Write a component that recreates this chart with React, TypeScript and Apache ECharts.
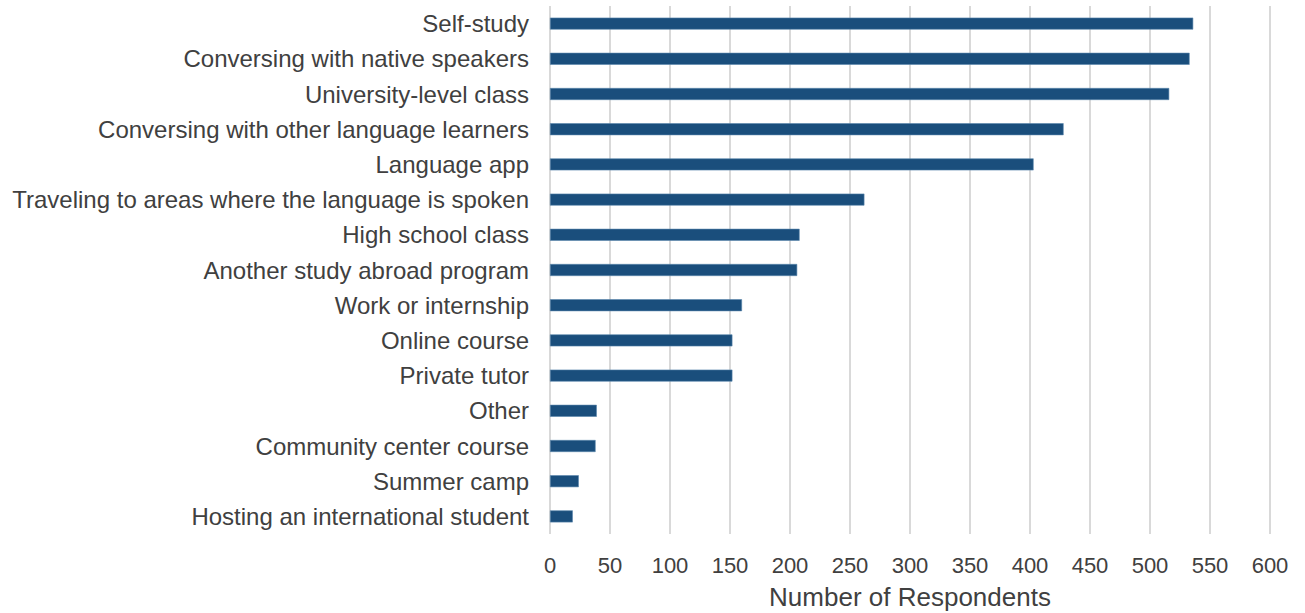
import React, { useEffect, useRef } from "react";
import * as echarts from "echarts";

const categories = [
  "Self-study",
  "Conversing with native speakers",
  "University-level class",
  "Conversing with other language learners",
  "Language app",
  "Traveling to areas where the language is spoken",
  "High school class",
  "Another study abroad program",
  "Work or internship",
  "Online course",
  "Private tutor",
  "Other",
  "Community center course",
  "Summer camp",
  "Hosting an international student",
];

const respondents = [536, 533, 516, 428, 403, 262, 208, 206, 160, 152, 152, 39, 38, 24, 19];

const xTicks = { min: 0, max: 600, interval: 50 };
const xAxisTitle = "Number of Respondents";

export default function App() {
  const ref = useRef<HTMLDivElement>(null);
  useEffect(() => {
    if (!ref.current) return;
    const chart = echarts.init(ref.current, null, { renderer: "svg" });
    const font = "'Liberation Sans', Arial, sans-serif";
    chart.setOption({
      animation: false,
      grid: {
        left: 550,
        right: 35,
        top: 6,
        bottom: 79,
        containLabel: false,
        outerBoundsMode: "none",
      },
      xAxis: {
        type: "value",
        min: xTicks.min,
        max: xTicks.max,
        interval: xTicks.interval,
        axisLine: { show: false },
        axisTick: { show: false },
        splitLine: { show: true, lineStyle: { color: "#d9d9d9", width: 2 } },
        axisLabel: { color: "#404040", fontSize: 22, fontFamily: font, margin: 20 },
        name: xAxisTitle,
        nameLocation: "middle",
        nameGap: 50,
        nameTextStyle: { color: "#404040", fontSize: 26, fontFamily: font },
      },
      yAxis: {
        type: "category",
        data: categories,
        inverse: true,
        axisLine: { show: false },
        axisTick: { show: false },
        splitLine: { show: false },
        axisLabel: { color: "#404040", fontSize: 24, fontFamily: font, margin: 21 },
      },
      series: [
        {
          type: "bar",
          data: respondents,
          barWidth: 12,
          itemStyle: { color: "#1a4e7c", borderColor: "#5a86ad", borderWidth: 0.6 },
        },
      ],
    });
    return () => chart.dispose();
  }, []);
  return (
    <div
      ref={ref}
      style={{ position: "fixed", left: 0, top: 0, width: 1305, height: 613, background: "#fff" }}
    />
  );
}
